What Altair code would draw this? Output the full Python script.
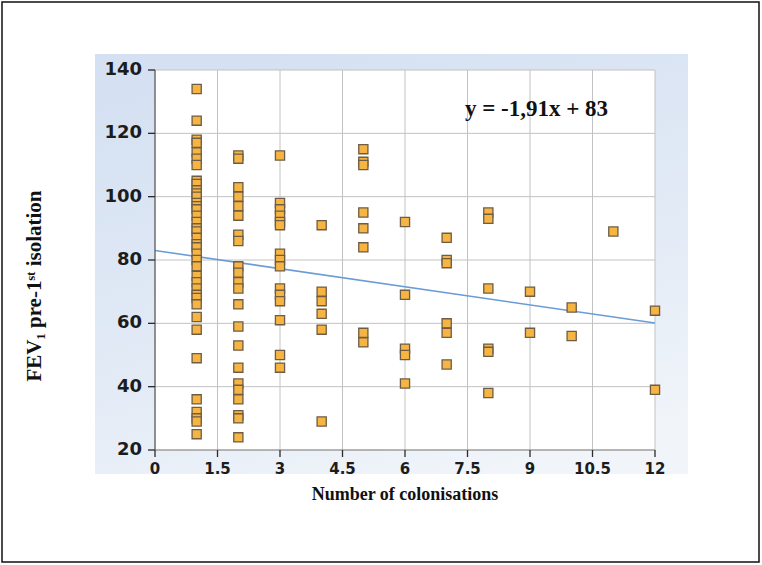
import altair as alt
import pandas as pd

# FEV1 values (pre first isolation) grouped by number of colonisations
colonisations = [1, 2, 3, 4, 5, 6, 7, 8, 9, 10, 11, 12]
fev_1 = [134, 124, 118, 117, 114, 112, 110, 105, 104, 102, 101, 100, 98, 97, 96,
         94, 92, 90, 89, 87, 85, 84, 82, 80, 78, 75, 73, 71, 69, 68, 66, 62, 58,
         49, 36, 32, 30, 29, 25]
fev_2 = [113, 112, 103, 100, 97, 94, 88, 86, 78, 76, 73, 71, 66, 59, 53, 46, 41,
         39, 36, 31, 30, 24]
fev_3 = [113, 98, 96, 94, 92, 91, 82, 80, 78, 71, 69, 67, 61, 50, 46]
fev_4 = [91, 70, 67, 63, 58, 29]
fev_5 = [115, 111, 110, 95, 90, 84, 57, 54]
fev_6 = [92, 69, 52, 50, 41]
fev_7 = [87, 80, 79, 60, 57, 47]
fev_8 = [95, 93, 71, 52, 51, 38]
fev_9 = [70, 57]
fev_10 = [65, 56]
fev_11 = [89]
fev_12 = [64, 39]
fev_groups = [fev_1, fev_2, fev_3, fev_4, fev_5, fev_6, fev_7, fev_8, fev_9,
              fev_10, fev_11, fev_12]

x_ticks = [0, 1.5, 3, 4.5, 6, 7.5, 9, 10.5, 12]
y_ticks = [20, 40, 60, 80, 100, 120, 140]

x_title = "Number of colonisations"
y_title = "FEV₁ pre-1ˢᵗ isolation"

# Linear trend
slope = -1.91
intercept = 83
equation = "y = -1,91x + 83"
equation_pos = [7.44, 127.7]

points = pd.DataFrame(
    [{"n": n, "fev": v} for n, vals in zip(colonisations, fev_groups) for v in vals]
)
trend = pd.DataFrame({"n": [0, 12]})
trend["fev"] = slope * trend["n"] + intercept

W, H = 500, 380
x_scale = alt.Scale(domain=[0, 12], nice=False, zero=False)
y_scale = alt.Scale(domain=[20, 140], nice=False, zero=False)
X = lambda f: alt.X(f, type="quantitative", scale=x_scale, axis=None)
Y = lambda f: alt.Y(f, type="quantitative", scale=y_scale, axis=None)
one = pd.DataFrame({"k": [0]})
xt = pd.DataFrame({"t": x_ticks})
yt = pd.DataFrame({"t": y_ticks})

TICK_FONT = "DejaVu Sans"
SERIF = "Liberation Serif"
INK = "#1c1c1c"

# outer frame
frame = alt.Chart(one).mark_rect(
    fill="white", stroke="#111111", strokeWidth=1.5
).encode(x=alt.value(-153), x2=alt.value(604), y=alt.value(-68), y2=alt.value(492))

# light blue chart panel
panel = alt.Chart(one).mark_rect(
    fill={
        "gradient": "linear",
        "x1": 0.3, "y1": 0, "x2": 0.7, "y2": 1,
        "stops": [
            {"offset": 0, "color": "#d5e1f2"},
            {"offset": 0.6, "color": "#e3ebf6"},
            {"offset": 1, "color": "#f1f5fa"},
        ],
    }
).encode(x=alt.value(-60), x2=alt.value(533), y=alt.value(-16), y2=alt.value(404))

plot_bg = alt.Chart(one).mark_rect(fill="white").encode(
    x=alt.value(0), x2=alt.value(W), y=alt.value(0), y2=alt.value(H)
)

vgrid = alt.Chart(xt).mark_rule(color="#c2c2c2", strokeWidth=1).encode(x=X("t"))
hgrid = alt.Chart(yt).mark_rule(color="#c2c2c2", strokeWidth=1).encode(y=Y("t"))

# axis lines, ticks and tick labels
y_domain = alt.Chart(one).mark_rule(color="#5c5c5c", strokeWidth=1.2).encode(
    x=alt.value(0), y=alt.value(0), y2=alt.value(H)
)
x_domain = alt.Chart(one).mark_rule(color="#8c8c8c", strokeWidth=1.2).encode(
    x=alt.value(0), x2=alt.value(W), y=alt.value(H)
)
x_tick_marks = alt.Chart(xt).mark_rule(color="#2a2a2a", strokeWidth=1.3).encode(
    x=X("t"), y=alt.value(H), y2=alt.value(H + 7)
)
y_tick_marks = alt.Chart(yt).mark_rule(color="#2a2a2a", strokeWidth=1.3).encode(
    y=Y("t"), x=alt.value(-7), x2=alt.value(0)
)
x_labels = alt.Chart(xt).mark_text(
    font=TICK_FONT, fontSize=15, fontWeight="bold", color=INK, baseline="middle"
).encode(x=X("t"), y=alt.value(H + 19), text=alt.Text("t:Q", format="~g"))
y_labels = alt.Chart(yt).mark_text(
    font=TICK_FONT, fontSize=18, fontWeight="bold", color=INK,
    align="right", baseline="middle"
).encode(y=Y("t"), x=alt.value(-13), text=alt.Text("t:Q", format="d"))

x_title_mark = alt.Chart(one).mark_text(
    text=x_title, font=SERIF, fontSize=18, fontWeight="bold", color="#111111",
    baseline="middle"
).encode(x=alt.value(W / 2), y=alt.value(H + 45))
y_title_mark = alt.Chart(one).mark_text(
    text=y_title, font=SERIF, fontSize=21, fontWeight="bold", color="#111111",
    baseline="middle", angle=270
).encode(x=alt.value(-120), y=alt.value(H / 2 + 26))

line = alt.Chart(trend).mark_line(color="#6c9bd6", strokeWidth=1.6).encode(
    x=X("n"), y=Y("fev")
)

dots = alt.Chart(points).mark_square(
    size=84, fill="#f6b443", stroke="#6e5c44", strokeWidth=1.3, opacity=1
).encode(x=X("n"), y=Y("fev"))

label = alt.Chart(
    pd.DataFrame({"n": [equation_pos[0]], "fev": [equation_pos[1]], "txt": [equation]})
).mark_text(
    align="left", baseline="middle", font=SERIF, fontSize=23,
    fontWeight="bold", color="#111111"
).encode(x=X("n"), y=Y("fev"), text="txt:N")

chart = alt.layer(
    frame, panel, plot_bg, vgrid, hgrid, line, dots,
    y_domain, x_domain, x_tick_marks, y_tick_marks, x_labels, y_labels,
    x_title_mark, y_title_mark, label,
).properties(
    width=W, height=H,
    autosize=alt.AutoSizeParams(type="none"),
    padding={"left": 155, "top": 70, "right": 107, "bottom": 115},
    background="white",
).configure_view(stroke=None)

chart.save("out.html", embed_options={"renderer": "svg", "actions": False})
